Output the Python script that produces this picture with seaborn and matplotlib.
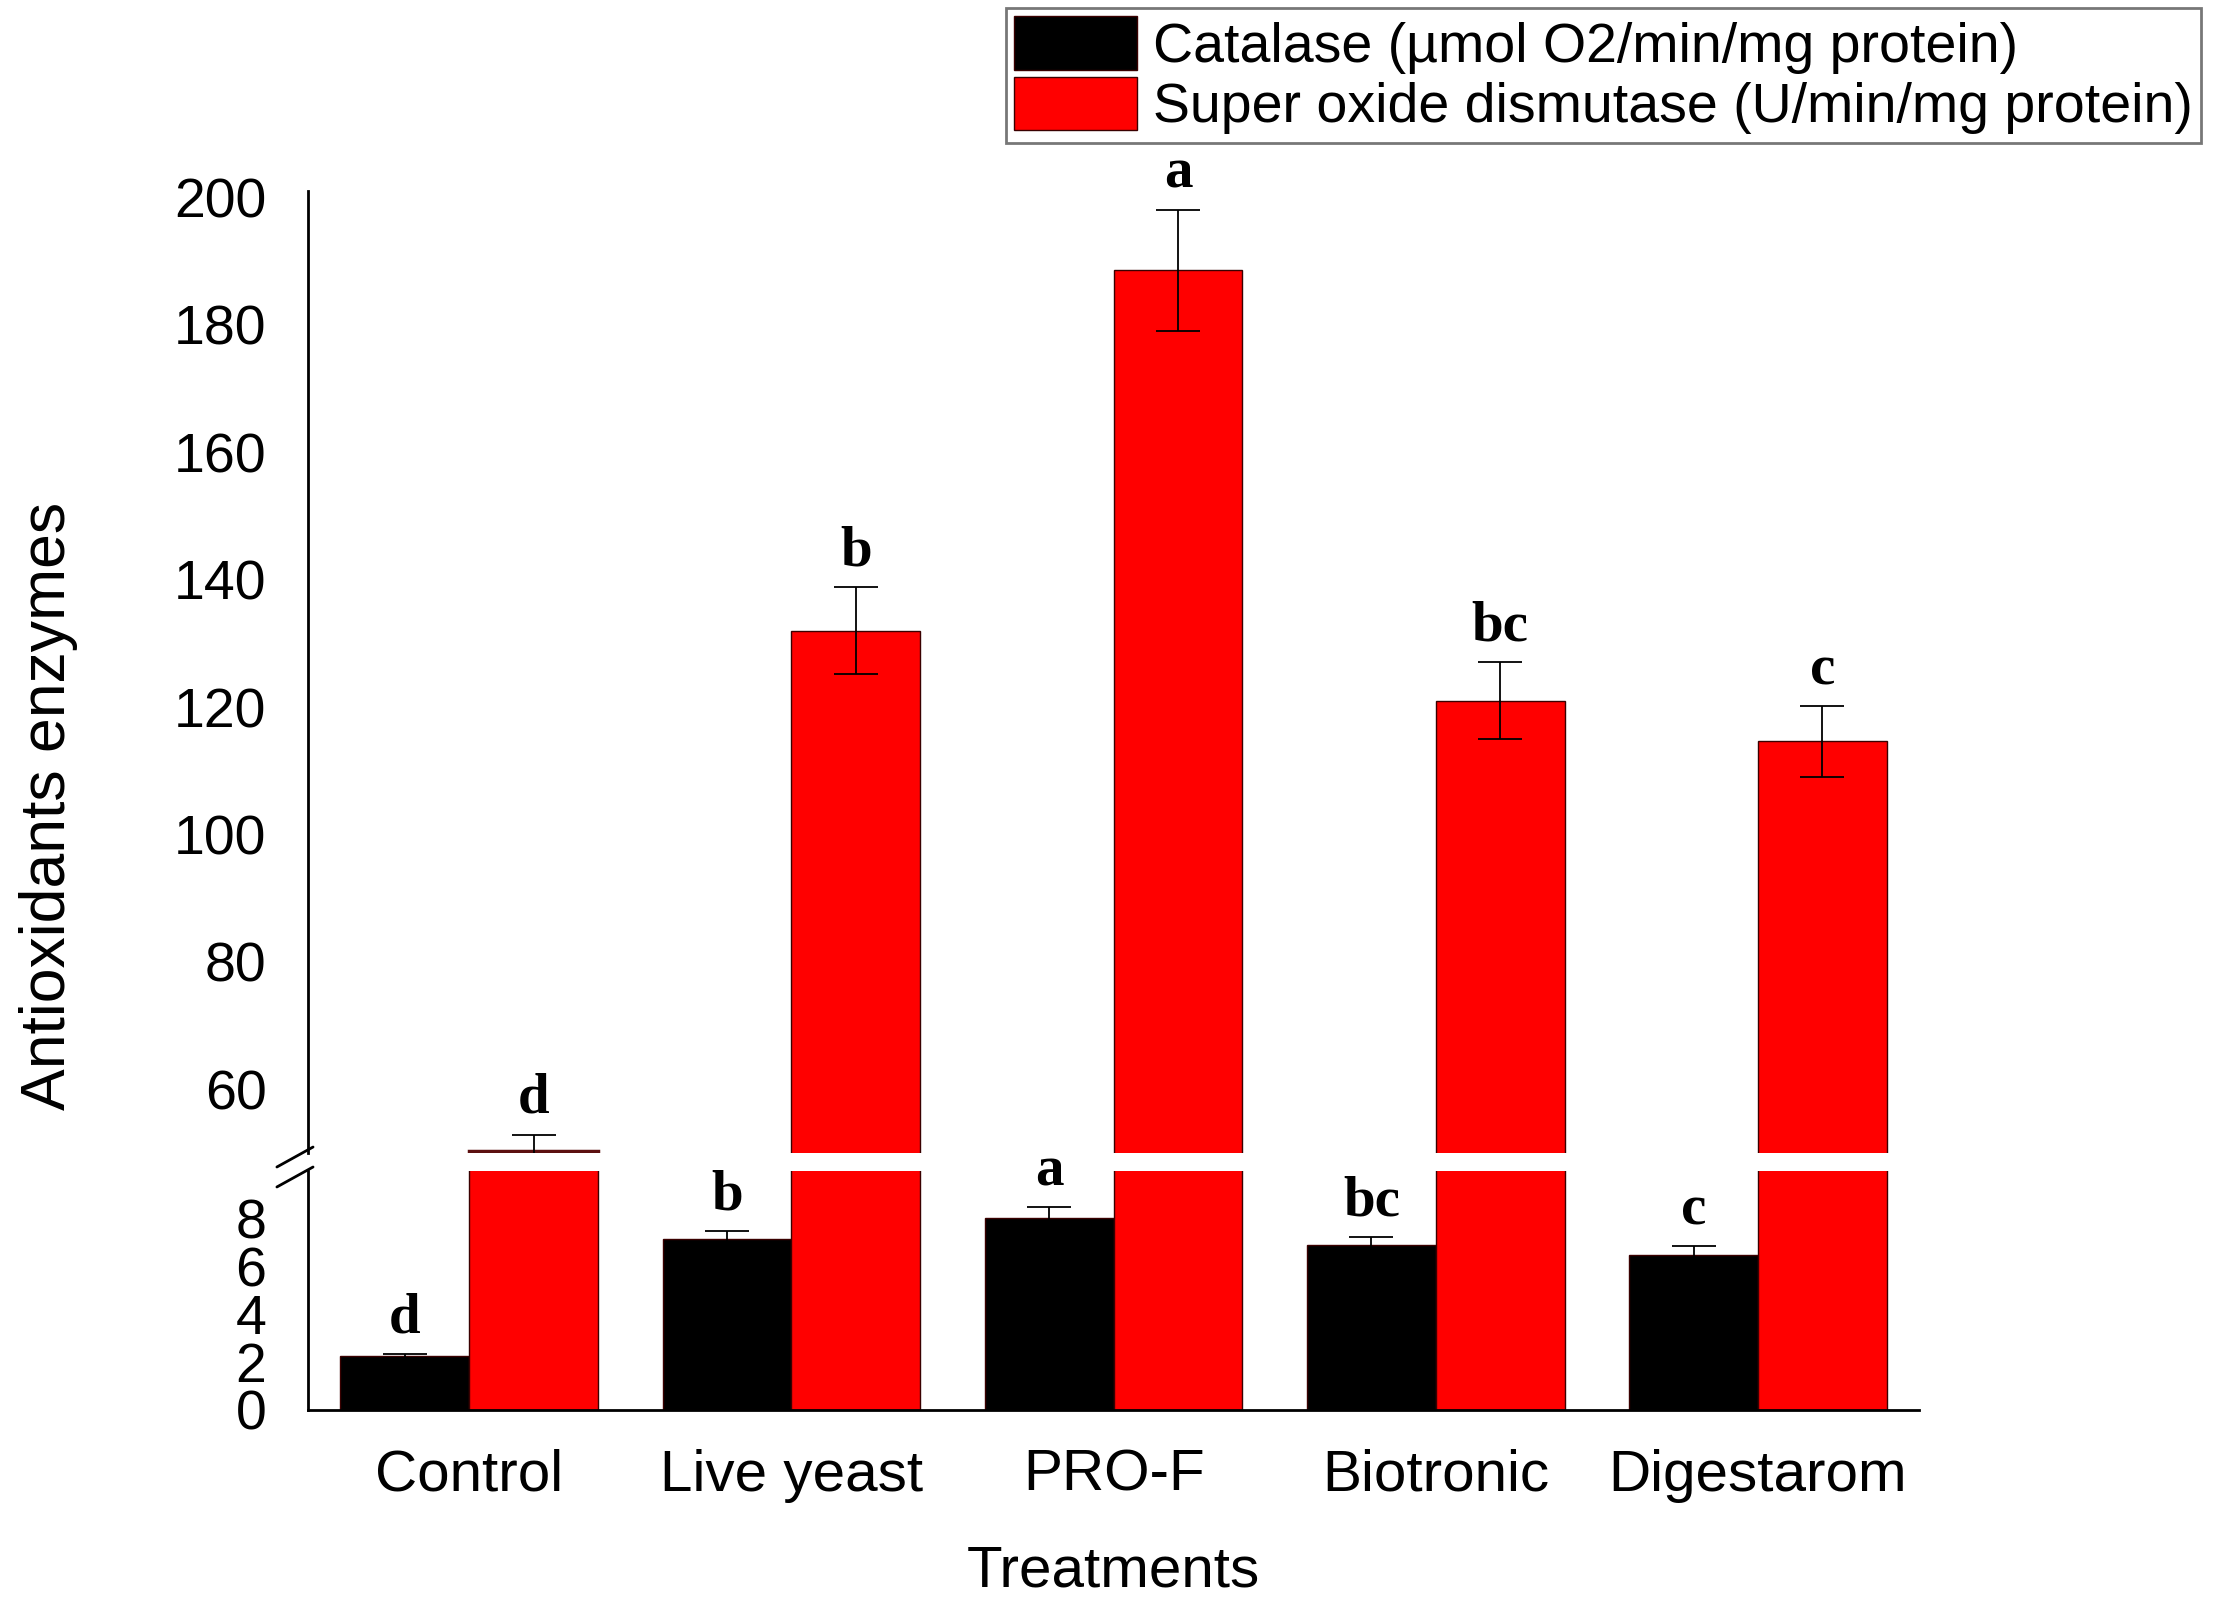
import pandas as pd
import matplotlib
matplotlib.use("Agg")
import matplotlib.pyplot as plt
import seaborn as sns
from matplotlib.lines import Line2D

# data
treatments = ["Control", "Live yeast", "PRO-F", "Biotronic", "Digestarom"]
catalase = [2.25, 7.15, 8.05, 6.9, 6.5]
catalase_err = [0.08, 0.35, 0.45, 0.35, 0.35]
sod = [50.3, 132.0, 188.6, 121.0, 114.6]
sod_err = [2.6, 6.8, 9.5, 6.0, 5.6]
catalase_letters = ["d", "b", "a", "bc", "c"]
sod_letters = ["d", "b", "a", "bc", "c"]

cat_label = "Catalase (µmol O2/min/mg protein)"
sod_label = "Super oxide dismutase (U/min/mg protein)"

df = pd.DataFrame({
    "Treatments": treatments * 2,
    "value": catalase + sod,
    "enzyme": [cat_label] * len(treatments) + [sod_label] * len(treatments),
})

sns.set_style("white")
plt.rcParams["font.family"] = ["Liberation Sans", "DejaVu Sans"]
for key in ["text.color", "axes.labelcolor", "xtick.color", "ytick.color"]:
    plt.rcParams[key] = "black"

fig = plt.figure(figsize=(22.17, 16.11), dpi=100)
ax_top = fig.add_axes([0.139, 0.2843, 0.7266, 0.8814 - 0.2843])
ax_bot = fig.add_axes([0.139, 0.1248, 0.7266, 0.2731 - 0.1248])

palette = ["#000000", "#ff0000"]
letter_font = dict(fontsize=41, fontweight="bold", family=["Liberation Serif", "DejaVu Serif"])

# === top panel (SOD range) and bottom panel (catalase range) ===
for ax, lo, hi, ticks in [(ax_top, 50, 201, range(60, 201, 20)),
                          (ax_bot, 0, 10, range(0, 9, 2))]:
    sns.barplot(data=df, x="Treatments", y="value", hue="enzyme",
                palette=palette, errorbar=None, width=0.8, saturation=1,
                edgecolor="#3a0000", linewidth=1, ax=ax)
    bars = list(ax.containers[:2])
    ax.set_ylim(lo, hi)
    ax.set_xlim(-0.5, 4.5)
    ax.set_yticks(list(ticks))
    ax.tick_params(axis="y", length=0, labelsize=40, pad=30)
    ax.tick_params(axis="x", length=0, labelsize=42, pad=28)
    ax.set_ylabel("")
    for side in ["top", "right"]:
        ax.spines[side].set_visible(False)
    for side in ["left", "bottom"]:
        ax.spines[side].set_linewidth(2)
        ax.spines[side].set_color("black")

    for cont, vals, errs, letters in [(bars[0], catalase, catalase_err, catalase_letters),
                                      (bars[1], sod, sod_err, sod_letters)]:
        xs = [p.get_x() + p.get_width() / 2 for p in cont.patches]
        ax.errorbar(xs, vals, yerr=errs, fmt="none", ecolor="black",
                    elinewidth=1.3, capsize=16, capthick=1.3)
        for x, v, e, let in zip(xs, vals, errs, letters):
            top = v + e
            if lo < top <= hi + 5:
                ax.annotate(let, (x, top), xytext=(0, 7), textcoords="offset points",
                            ha="center", va="bottom", annotation_clip=False, **letter_font)

    if ax.get_legend() is not None:
        handles, labels = ax.get_legend_handles_labels()
        ax.get_legend().remove()

# thin bar just above the break gets a dark top edge like the original
for p in ax_top.containers[1].patches:
    if p.get_height() < 55:
        p.set_edgecolor("#5c1010")
        p.set_linewidth(2.5)

ax_top.spines["bottom"].set_visible(False)
ax_top.tick_params(axis="x", labelbottom=False)
ax_top.set_xlabel("")
ax_bot.set_xlabel("Treatments", fontsize=42, labelpad=30)

fig.text(0.022, 0.5, "Antioxidants enzymes", rotation=90, fontsize=45,
         ha="center", va="center")

# axis break marks
for y0, y1 in [(0.2756, 0.2880), (0.2632, 0.2756)]:
    fig.add_artist(Line2D([0.1249, 0.1412], [y0, y1], color="black", lw=2,
                          transform=fig.transFigure))

leg = fig.legend(handles, labels, loc="upper right", bbox_to_anchor=(0.993, 0.995),
                 fontsize=40, frameon=True, fancybox=False, edgecolor="#555555",
                 handlelength=2.2, handleheight=1.1, labelspacing=0.05,
                 handletextpad=0.3, borderpad=0.15, borderaxespad=0)
leg.get_frame().set_linewidth(2)

plt.savefig("out.png", dpi=100)
